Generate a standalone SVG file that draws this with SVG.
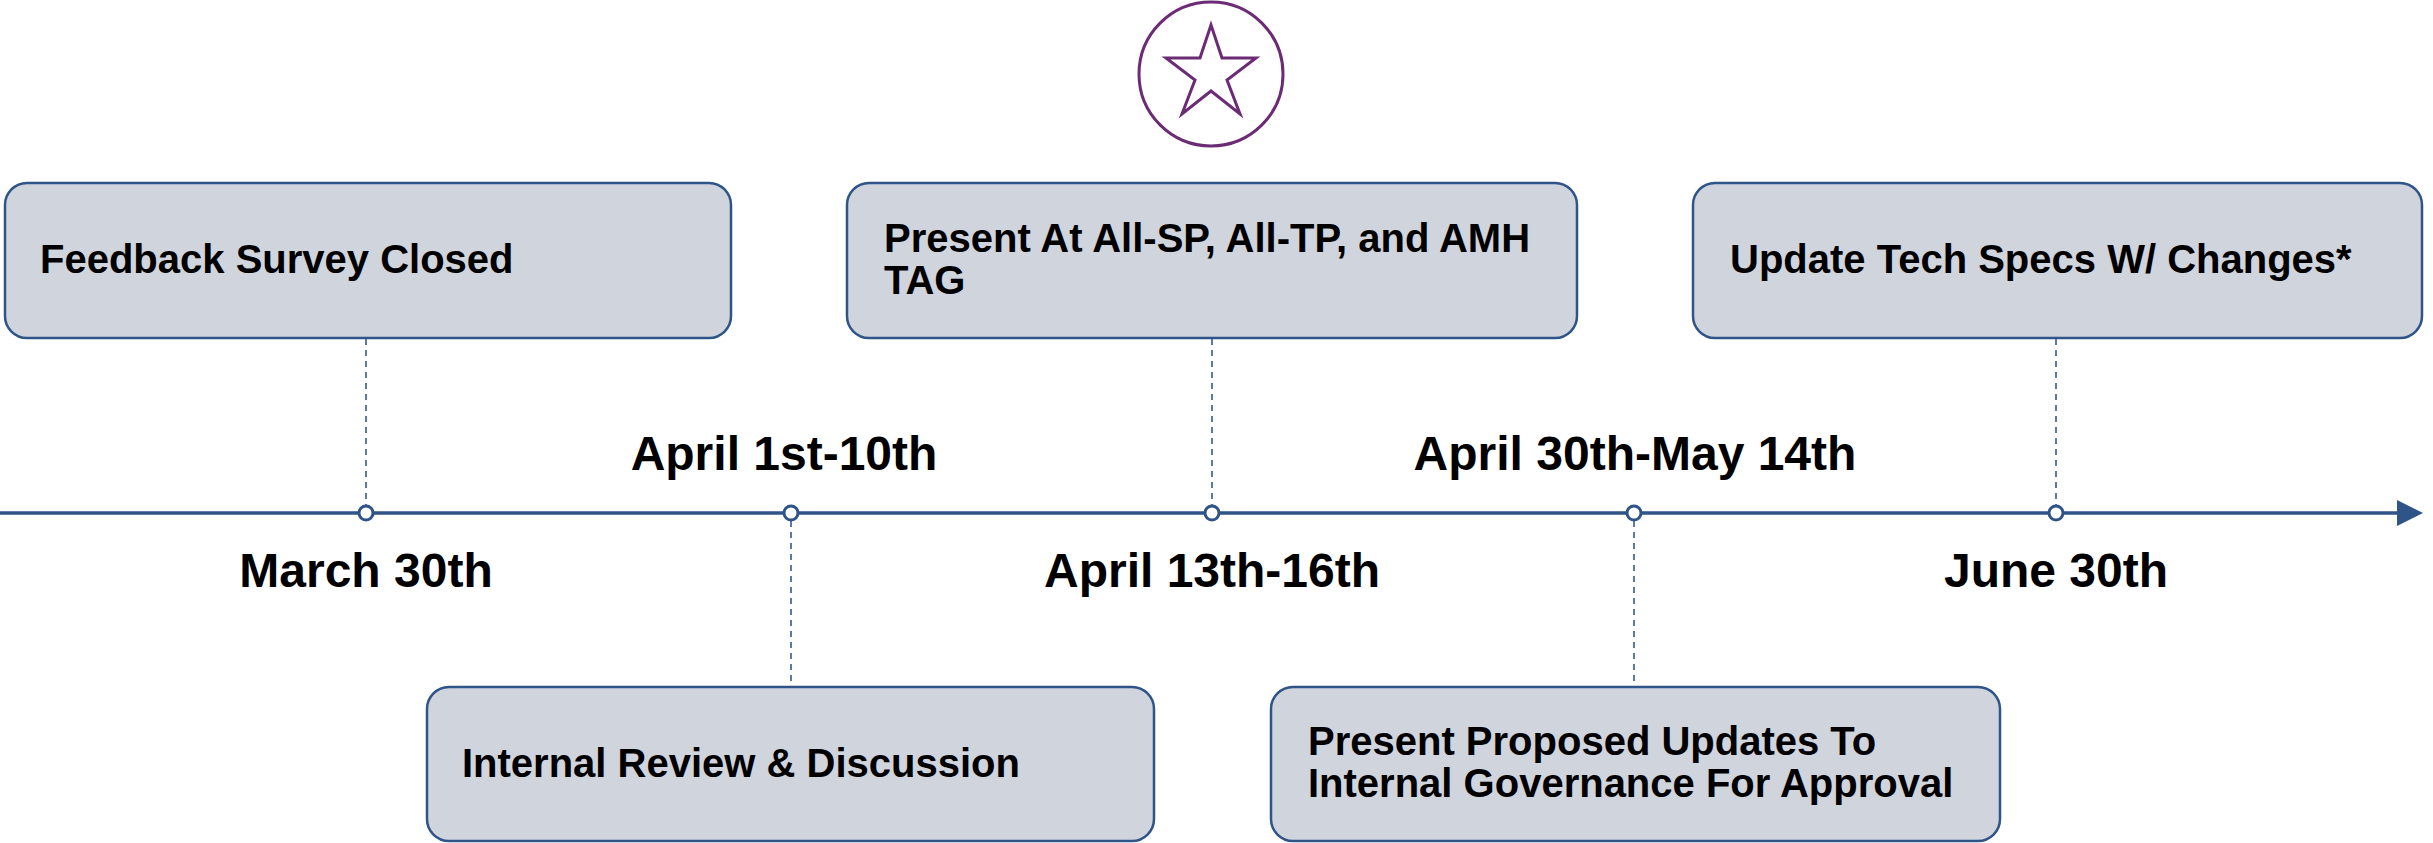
<svg xmlns="http://www.w3.org/2000/svg" width="2433" height="843" viewBox="0 0 2433 843">
<style>
.box{fill:#D0D4DC;stroke:#2F5487;stroke-width:2.5}
.t{font-family:"Liberation Sans",Arial,sans-serif;font-weight:bold;font-size:40px;fill:#000}
.d{font-family:"Liberation Sans",Arial,sans-serif;font-weight:bold;font-size:48px;fill:#000;text-anchor:middle}
.dash{stroke:#5A7BA6;stroke-width:2;stroke-dasharray:6,5;fill:none}
.dot{fill:#fff;stroke:#2F5487;stroke-width:3}
</style>
<rect width="2433" height="843" fill="#fff"/>
<g id="connectors">
<line x1="0" y1="513" x2="2400" y2="513" stroke="#2F5487" stroke-width="3.5"/>
<polygon points="2397,500 2423,513 2397,526" fill="#2F5487"/>
<line class="dash" x1="366" y1="339" x2="366" y2="505"/>
<line class="dash" x1="791" y1="521" x2="791" y2="686"/>
<line class="dash" x1="1212" y1="339" x2="1212" y2="505"/>
<line class="dash" x1="1634" y1="521" x2="1634" y2="686"/>
<line class="dash" x1="2056" y1="339" x2="2056" y2="505"/>
<circle class="dot" cx="366" cy="513" r="7"/>
<circle class="dot" cx="791" cy="513" r="7"/>
<circle class="dot" cx="1212" cy="513" r="7"/>
<circle class="dot" cx="1634" cy="513" r="7"/>
<circle class="dot" cx="2056" cy="513" r="7"/>
</g>
<g id="star-icon">
<circle cx="1211" cy="74" r="72" fill="none" stroke="#6B2C75" stroke-width="3"/>
<polygon points="1211,25 1222,58 1256,58 1227,80 1240,114 1211,91 1182,114 1195,80 1166,58 1200,58" fill="none" stroke="#6B2C75" stroke-width="3" stroke-linejoin="miter"/>
</g>
<g id="node-feedback">
<rect class="box" x="5" y="183" width="726" height="155" rx="22"/>
<text class="t" x="40" y="273">Feedback Survey Closed</text>
</g>
<g id="node-present">
<rect class="box" x="847" y="183" width="730" height="155" rx="22"/>
<text class="t" x="884" y="252">Present At All-SP, All-TP, and AMH</text>
<text class="t" x="884" y="294">TAG</text>
</g>
<g id="node-update">
<rect class="box" x="1693" y="183" width="729" height="155" rx="22"/>
<text class="t" x="1730" y="273">Update Tech Specs W/ Changes*</text>
</g>
<g id="node-internal">
<rect class="box" x="427" y="687" width="727" height="154" rx="22"/>
<text class="t" x="462" y="777">Internal Review &amp; Discussion</text>
</g>
<g id="node-governance">
<rect class="box" x="1271" y="687" width="729" height="154" rx="22"/>
<text class="t" x="1308" y="755">Present Proposed Updates To</text>
<text class="t" x="1308" y="797">Internal Governance For Approval</text>
</g>
<g id="dates">
<text class="d" x="366" y="587">March 30th</text>
<text class="d" x="784" y="470">April 1st-10th</text>
<text class="d" x="1212" y="587">April 13th-16th</text>
<text class="d" x="1635" y="470">April 30th-May 14th</text>
<text class="d" x="2056" y="587">June 30th</text>
</g>
</svg>
